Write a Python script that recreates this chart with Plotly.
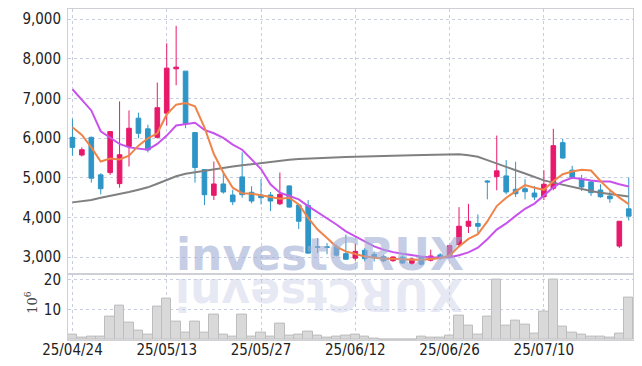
import plotly.graph_objects as go

dates = ["25/04/24","25/04/25","25/04/28","25/04/29","25/04/30","25/05/02","25/05/07","25/05/08","25/05/09","25/05/12",
         "25/05/13","25/05/14","25/05/15","25/05/16","25/05/19","25/05/20","25/05/21","25/05/22","25/05/23","25/05/26",
         "25/05/27","25/05/28","25/05/29","25/05/30","25/06/02","25/06/04","25/06/05","25/06/09","25/06/10","25/06/11",
         "25/06/12","25/06/13","25/06/16","25/06/17","25/06/18","25/06/19","25/06/20","25/06/23","25/06/24","25/06/25",
         "25/06/26","25/06/27","25/06/30","25/07/01","25/07/02","25/07/03","25/07/04","25/07/07","25/07/08","25/07/09",
         "25/07/10","25/07/11","25/07/14","25/07/15","25/07/16","25/07/17","25/07/18","25/07/21","25/07/22","25/07/23"]

open_ = [6020,5574,6020,5074,5132,4853,5792,6503,6234,6020,
         6630,7746,7688,6140,5208,4559,4845,4566,5023,4635,
         4566,4566,4345,4795,4312,4305,3262,3262,3259,3089,
         2975,3175,3069,3013,2911,3000,2848,2993,2924,3056,
         3000,3315,3779,3848,4921,5031,5048,4711,4726,4617,
         4523,4736,5886,5193,4965,4896,4693,4541,3279,4218]
high = [6487,5767,6038,5117,6178,6926,6698,6640,6335,7401,
        8391,8830,7688,6140,5218,5411,5132,4700,5640,4787,
        4965,4642,5132,4812,4330,4439,3482,3356,3315,3569,
        3340,3229,3145,3061,3018,3043,2975,3030,3188,3102,
        3315,4261,4345,4076,4939,6064,5447,5404,4965,4795,
        5193,6234,5980,5302,5074,4922,4838,4668,3906,5005]
low = [5556,5538,4878,4584,5074,4751,5284,5995,5640,5990,
       6317,7333,6249,4878,4312,4439,4600,4312,4498,4356,
       4330,4160,4312,4244,3711,3094,3102,3076,3018,2934,
       2910,2891,2890,2873,2884,2833,2807,2790,2891,2934,
       2967,3272,3609,3609,4457,4685,4584,4520,4457,4439,
       4439,4685,5490,4995,4668,4541,4498,4371,3229,3924]
close = [5767,5708,4990,4726,6165,5581,6249,6122,5701,6767,
         7764,7789,6360,5259,4574,4845,4642,4396,4574,4414,
         4498,4414,4584,4262,3906,3102,3250,3248,3051,2949,
         3145,2960,2985,2911,3005,2853,2955,2822,3030,2988,
         3290,3779,3906,3779,4896,5175,4642,4599,4650,4516,
         4838,5810,5498,5005,4769,4625,4523,4472,3906,4033]

volume_m = [1.7,0.7,1.0,1.0,7.8,11.3,5.7,3.0,1.7,11.1,
            13.7,6.0,2.4,6.0,2.3,8.3,1.8,1.3,8.3,1.0,
            2.4,1.0,5.3,1.5,1.8,2.7,1.5,0.8,1.0,1.5,
            1.8,1.0,0.6,0.3,0.3,0.3,0.3,1.0,0.8,0.8,
            1.5,8.0,4.7,1.8,7.8,20.0,4.7,6.3,5.0,2.0,
            9.4,20.0,4.3,2.3,1.7,1.1,1.3,0.7,2.0,14.0]

ma_short = [6274,6081,5767,5411,5487,5462,5556,5810,5995,6122,
            6597,6843,6883,6800,6274,5599,5132,4751,4609,4600,
            4559,4523,4473,4498,4330,3990,3696,3482,3260,3145,
            3086,3018,2992,2960,2960,2942,2934,2935,2955,2975,
            3040,3272,3460,3580,3900,4287,4498,4668,4815,4751,
            4697,4913,5091,5158,5200,5185,4920,4690,4500,4338]
ma_mid = [7231,6970,6698,6173,6020,5853,5767,5741,5708,5853,
          6064,6317,6360,6386,6208,6122,6005,5835,5708,5472,
          5220,4838,4624,4541,4457,4287,4135,3990,3823,3652,
          3525,3399,3272,3188,3127,3086,3043,3018,2992,2992,
          3000,3050,3120,3240,3450,3696,3850,4040,4220,4350,
          4560,4760,4910,5000,4970,4930,4910,4904,4838,4780]
ma_long = [4381,4410,4440,4498,4540,4590,4640,4700,4760,4850,
           4950,5040,5100,5140,5180,5218,5250,5284,5315,5345,
           5380,5411,5435,5455,5472,5485,5495,5505,5513,5522,
           5530,5540,5548,5555,5560,5565,5570,5574,5585,5595,
           5599,5595,5570,5530,5447,5360,5259,5190,5110,5020,
           4935,4878,4825,4760,4705,4668,4625,4592,4562,4528]

price_ticks = [3000, 4000, 5000, 6000, 7000, 8000, 9000]
vol_ticks = [10, 20]
x_tick_labels = dates[::10]

RED = "#e8196a"
BLUE = "#2e95c7"
GRID = "#c9cde0"
FONT = "DejaVu Sans Condensed, Liberation Sans Narrow, Arial Narrow, sans-serif"

fig = go.Figure()
fig.add_trace(go.Bar(x=dates, y=volume_m, xaxis="x2", yaxis="y2",
                     marker=dict(color="#d9d9d9", line=dict(color="#bdbdbd", width=1)),
                     showlegend=False, hoverinfo="skip"))
fig.add_trace(go.Scatter(x=dates, y=ma_long, mode="lines", line=dict(color="#808080", width=2),
                         showlegend=False, hoverinfo="skip"))
fig.add_trace(go.Scatter(x=dates, y=ma_mid, mode="lines", line=dict(color="#c853ec", width=2),
                         showlegend=False, hoverinfo="skip"))
fig.add_trace(go.Scatter(x=dates, y=ma_short, mode="lines", line=dict(color="#ef8449", width=2),
                         showlegend=False, hoverinfo="skip"))
fig.add_trace(go.Candlestick(x=dates, open=open_, high=high, low=low, close=close,
                             increasing=dict(line=dict(color=RED, width=1), fillcolor=RED),
                             decreasing=dict(line=dict(color=BLUE, width=1), fillcolor=BLUE),
                             whiskerwidth=0, showlegend=False))

split = (338 - 272) / 329.0
xr = [-0.47, 59.45]
axis_common = dict(showgrid=True, gridcolor=GRID, griddash="dot", showline=True,
                   linecolor="#cfcfd6", mirror=True, zeroline=False, automargin=False)
# page has an 8px body margin: figure is placed at (8, 8)
fig.update_layout(
    width=634, height=358,
    margin=dict(l=60, r=9, t=1, b=26, autoexpand=False),
    paper_bgcolor="white", plot_bgcolor="white",
    bargap=0, boxgap=0.3,
    font=dict(family=FONT, size=15, color="#222"),
    xaxis=dict(domain=[0, 1], anchor="y", type="category", range=xr, matches="x2",
               rangeslider=dict(visible=False), showticklabels=False,
               tickvals=x_tick_labels, **axis_common),
    xaxis2=dict(domain=[0, 1], anchor="y2", type="category", range=xr,
                tickvals=x_tick_labels, ticktext=x_tick_labels, ticks="",
                ticklabelstandoff=-4,
                tickfont=dict(family=FONT, size=15, color="#222"), **axis_common),
    yaxis=dict(domain=[split, 1], anchor="x", range=[2586, 9254], tickvals=price_ticks,
               tickformat=",d", ticks="outside", ticklen=3, tickcolor="rgba(0,0,0,0)",
               **axis_common),
    yaxis2=dict(domain=[0, split], anchor="x2", range=[0, 22.1], tickvals=vol_ticks,
                ticks="outside", ticklen=3, tickcolor="rgba(0,0,0,0)", **axis_common),
)

wm_x = (319.5 - 68) / 565
fig.add_annotation(text="<b>investCRUX</b>", xref="paper", yref="paper",
                   x=wm_x, y=(338 - 253) / 329, xanchor="center", yanchor="middle",
                   showarrow=False, font=dict(family="DejaVu Sans, sans-serif", size=44,
                                               color="rgba(160,174,212,0.6)"))
fig.add_annotation(text="<b>XURCtsevni</b>", xref="paper", yref="paper", textangle=180,
                   x=wm_x, y=(338 - 293) / 329, xanchor="center", yanchor="middle",
                   showarrow=False, font=dict(family="DejaVu Sans, sans-serif", size=44,
                                               color="rgba(200,206,228,0.45)"))
fig.add_annotation(text="10<sup>6</sup>", xref="paper", yref="paper", textangle=-90,
                   x=(31 - 68) / 565, y=(338 - 301) / 329, xanchor="center", yanchor="middle",
                   showarrow=False, font=dict(family="DejaVu Serif, serif", size=13, color="#444"))

fig.write_html("out.html")
